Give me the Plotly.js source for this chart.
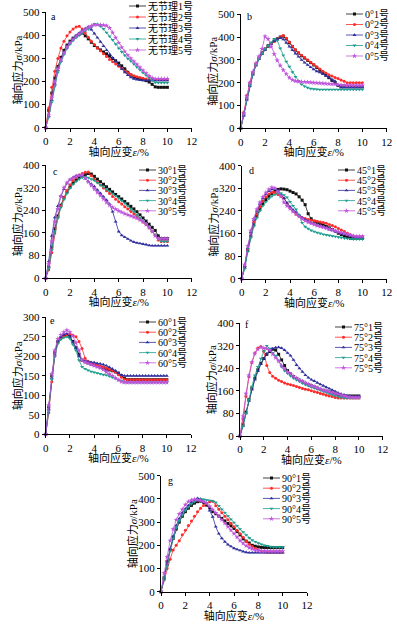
<!DOCTYPE html>
<html><head><meta charset="utf-8">
<script src="https://cdn.plot.ly/plotly-3.0.1.min.js"></script>
<style>html,body{margin:0;padding:0;background:#fff}#chart{width:397px;height:626px}</style>
</head><body><div id="chart"></div>
<script>
// axial strain (%) sampling points shared by every specimen
const strain = [0,0.25,0.5,0.75,1,1.25,1.5,1.75,2,2.25,2.5,2.75,3,3.25,3.5,3.75,4,4.25,4.5,4.75,5,5.25,5.5,5.75,6,6.25,6.5,6.75,7,7.25,7.5,7.75,8,8.25,8.5,8.75,9,9.25,9.5,9.75,10];

// a: intact (无节理)
const namesA = ['无节理1号','无节理2号','无节理3号','无节理4号','无节理5号'];
const stressA1 = [0,75,150,215,265,305,335,358,375,388,397,405,410,398,385,370,356,346,337,328,320,310,300,290,280,268,255,240,228,220,214,211,208,204,198,188,177,175,175,175,175];
const stressA2 = [0,85,175,245,300,345,375,398,415,428,436,440,428,410,392,375,360,345,333,320,308,296,286,276,266,256,246,238,230,225,221,217,214,211,209,208,208,208,208,208,208];
const stressA3 = [0,50,120,190,250,292,325,350,370,386,398,410,420,430,437,425,408,390,372,354,336,318,302,286,270,255,240,228,218,212,208,206,205,205,205,205,205,205,205,205,205];
const stressA4 = [0,45,110,180,240,285,318,343,362,378,390,400,410,418,427,436,450,448,440,428,412,396,380,362,344,328,313,299,288,275,262,250,238,227,216,205,196,195,195,195,195];
const stressA5 = [0,55,130,200,255,295,325,350,368,383,396,407,417,426,434,441,445,446,445,444,442,432,412,390,368,348,330,314,300,287,274,261,248,236,225,216,212,212,212,212,212];

// b: 0°
const namesB = ['0°1号','0°2号','0°3号','0°4号','0°5号'];
const stressB1 = [0,60,130,190,240,280,308,330,348,362,373,383,392,400,404,392,375,358,343,330,318,308,298,288,278,267,255,245,234,222,210,200,188,182,182,182,182,182,182,182,182];
const stressB2 = [0,70,145,200,245,282,308,330,348,360,372,382,392,402,407,395,378,360,345,332,320,310,300,290,280,270,260,250,242,235,229,223,218,212,206,200,200,200,200,200,200];
const stressB3 = [0,55,125,185,235,275,303,325,343,358,370,382,392,396,390,375,358,343,328,314,300,288,278,268,259,250,245,238,230,222,214,207,190,180,180,180,180,180,180,180,180];
const stressB4 = [0,60,130,190,240,278,305,328,348,362,375,392,385,350,320,292,270,246,226,208,193,184,178,174,172,171,170,170,170,170,170,170,170,170,170,170,170,170,170,170,170];
const stressB5 = [0,65,140,200,248,285,315,348,403,392,358,325,298,275,255,238,222,212,207,205,204,203,202,201,200,199,198,197,196,195,194,193,191,190,189,188,188,188,188,188,188];

// c: 30°
const namesC = ['30°1号','30°2号','30°3号','30°4号','30°5号'];
const stressC1 = [0,40,110,175,220,258,285,305,322,336,347,356,362,366,370,368,360,350,341,332,323,314,305,296,288,280,271,263,254,245,235,224,213,202,191,180,169,150,140,140,140];
const stressC2 = [0,30,90,160,215,255,285,310,330,345,357,365,370,374,375,362,350,340,329,319,309,299,289,279,270,262,253,245,236,227,217,208,199,190,178,166,153,135,130,130,130];
const stressC3 = [0,60,150,215,255,290,315,335,348,356,362,363,362,352,342,333,324,312,300,288,276,262,235,200,165,152,145,139,133,128,125,123,121,119,116,115,115,115,115,115,115];
const stressC4 = [0,35,100,165,212,250,278,300,318,332,342,350,356,358,355,350,345,337,330,322,315,307,299,291,283,274,265,255,245,235,224,213,202,191,180,168,152,140,130,130,130];
const stressC5 = [0,50,130,200,245,290,320,338,348,355,360,363,365,355,340,328,315,303,292,280,268,258,250,244,238,233,228,224,220,216,212,206,200,190,180,165,150,140,140,140,140];

// d: 45°
const namesD = ['45°1号','45°2号','45°3号','45°4号','45°5号'];
const stressD1 = [0,40,100,150,192,222,246,265,280,292,302,310,316,318,317,315,310,305,300,290,278,262,230,212,203,198,194,190,185,180,174,168,161,156,150,146,143,143,143,143,143];
const stressD2 = [0,45,105,160,200,230,255,275,290,300,306,305,298,292,285,268,250,238,228,221,217,213,210,207,205,203,201,199,196,192,188,184,178,172,167,161,156,151,149,149,149];
const stressD3 = [0,45,108,165,208,240,265,285,300,310,316,318,312,300,285,268,255,244,235,225,216,210,203,198,193,189,186,183,179,174,171,168,164,160,157,154,151,149,147,146,145];
const stressD4 = [0,35,95,145,185,215,240,258,272,283,292,298,303,302,296,288,272,258,245,225,198,184,177,171,167,163,160,157,155,153,151,149,147,145,143,142,141,140,140,140,140];
const stressD5 = [0,50,115,170,212,245,270,290,305,316,323,320,308,292,270,258,248,238,229,220,212,205,200,196,192,188,185,182,179,176,173,169,166,163,160,157,154,151,150,150,150];

// e: 60°
const namesE = ['60°1号','60°2号','60°3号','60°4号','60°5号'];
const stressE1 = [0,70,150,210,238,248,252,255,252,238,222,205,190,186,183,180,178,175,172,170,167,165,163,160,157,150,143,140,140,140,140,140,140,140,140,140,140,140,140,140,140];
const stressE2 = [0,55,135,200,235,245,250,255,258,254,250,238,220,195,187,183,180,178,175,173,170,167,164,160,153,146,141,140,140,140,140,140,140,140,140,140,140,140,140,140,140];
const stressE3 = [0,65,145,205,238,250,256,258,250,235,222,200,190,188,186,185,184,182,181,179,176,172,168,163,157,152,150,150,150,150,150,150,150,150,150,150,150,150,150,150,150];
const stressE4 = [0,60,140,200,232,243,248,250,245,230,215,190,173,168,164,161,159,157,155,153,152,149,146,143,140,137,134,133,133,133,133,133,133,133,133,133,133,133,133,133,133];
const stressE5 = [0,75,155,215,245,255,262,267,262,252,235,215,190,185,182,179,176,173,170,166,160,155,150,145,139,135,133,133,133,133,133,133,133,133,133,133,133,133,133,133,133];

// f: 75°
const namesF = ['75°1号','75°2号','75°3号','75°4号','75°5号'];
const stressF1 = [0,40,85,130,170,205,235,258,275,290,300,308,305,290,270,250,232,220,211,204,198,192,187,182,178,174,170,166,162,159,156,153,150,147,144,142,142,142,142,142,142];
const stressF2 = [0,60,140,210,260,295,312,318,300,250,225,212,205,198,193,188,185,182,179,176,172,169,166,164,161,157,154,151,148,145,142,140,137,135,135,135,135,135,135,135,135];
const stressF3 = [0,35,80,125,165,200,230,255,275,292,302,310,314,315,312,305,295,285,270,252,240,228,216,207,200,195,189,183,178,173,168,163,158,153,149,146,143,141,140,140,140];
const stressF4 = [0,35,80,130,175,215,245,275,300,320,310,295,285,268,246,232,222,213,205,199,193,187,182,178,174,170,166,162,158,154,150,146,143,140,137,135,135,135,135,135,135];
const stressF5 = [0,70,150,215,262,292,308,315,312,310,305,290,278,265,250,238,228,220,212,205,199,194,189,184,179,175,171,167,163,160,157,154,151,148,145,142,140,138,137,137,137];

// g: 90°
const namesG = ['90°1号','90°2号','90°3号','90°4号','90°5号'];
const stressG1 = [0,60,130,180,230,270,300,325,345,360,372,382,388,390,385,373,362,345,336,326,316,305,294,284,273,259,245,228,218,210,200,196,193,191,190,190,190,190,190,190,190];
const stressG2 = [0,50,100,140,180,200,220,245,265,285,305,325,345,360,372,380,388,390,370,355,340,325,310,295,280,265,250,235,216,205,195,187,180,175,172,170,170,170,170,170,170];
const stressG3 = [0,55,120,185,240,285,315,340,358,372,385,395,403,400,390,381,350,323,280,250,230,215,203,195,187,182,178,173,170,168,168,168,168,168,168,168,168,168,168,168,168];
const stressG4 = [0,50,110,175,230,275,305,330,350,365,378,388,395,400,398,395,393,392,385,370,355,340,326,312,298,284,270,257,244,232,222,215,209,204,200,197,194,192,192,192,192];
const stressG5 = [0,80,150,220,270,310,335,355,375,388,395,398,396,392,388,381,368,354,340,325,310,295,280,265,250,235,220,208,198,190,184,180,177,175,175,175,175,175,175,175,175];

const panelLetters = ['a','b','c','d','e','f','g'];
const yMax = [500,500,400,400,300,400,500];
const yStep = [100,100,80,80,50,80,100];

// ---------- styling / layout ----------
const W = 397, H = 626;
const SERIF = 'Liberation Serif, Noto Sans CJK SC, serif';
const colors = ['#111111','#ff2a2a','#2e2e9e','#1e9e8e','#c055dd'];
const symbols = ['square','circle','triangle-up','triangle-down','star'];
const msize = [3,3,3.5,3.5,4];

// plot boxes in pixels: [left, right, top, bottom]
const boxes = [
  [45.7,191.7,12.3,127.7],
  [240.7,386.7,14.3,128.3],
  [45.7,191.7,165,278.3],
  [241.7,386.7,165.7,278.7],
  [45.7,191,317.3,434.3],
  [240,382.7,323.3,436],
  [161,307,475.7,591.7]
];
// legend: [text left px, first row centre px, row spacing px]
const legPos = [
  [148,6,11],[365,14,10.5],[158,170,10.2],[357,170,10.2],[158,322,10.2],[354,327,10.2],[282,478,10.2]
];
const letterPos = [[0.05,0.96],[0.057,0.985],[0.064,0.94],[0.069,0.96],[0.045,0.97],[0.051,0.985],[0.062,0.957]];

const panels = [
  [namesA,[stressA1,stressA2,stressA3,stressA4,stressA5]],
  [namesB,[stressB1,stressB2,stressB3,stressB4,stressB5]],
  [namesC,[stressC1,stressC2,stressC3,stressC4,stressC5]],
  [namesD,[stressD1,stressD2,stressD3,stressD4,stressD5]],
  [namesE,[stressE1,stressE2,stressE3,stressE4,stressE5]],
  [namesF,[stressF1,stressF2,stressF3,stressF4,stressF5]],
  [namesG,[stressG1,stressG2,stressG3,stressG4,stressG5]]
];

const data = [];
const layout = {
  width: W, height: H,
  margin: {l:0,r:0,t:0,b:0,autoexpand:false},
  paper_bgcolor:'#fff', plot_bgcolor:'rgba(0,0,0,0)',
  font: {family: SERIF, size: 11, color:'#000'},
  annotations: []
};

panels.forEach((p, k) => {
  const n = k === 0 ? '' : String(k+1);
  const legId = 'legend' + n;
  const [names, series] = p;
  series.forEach((ys, s) => {
    data.push({
      type:'scatter', mode:'lines+markers',
      x: strain, y: ys, name: names[s],
      xaxis: 'x'+n, yaxis: 'y'+n, legend: legId,
      line: {color: colors[s], width: 0.8},
      marker: {color: colors[s], symbol: symbols[s], size: msize[s], line:{width:0}},
      cliponaxis: false
    });
  });
  const b = boxes[k];
  const axFont = {family: SERIF, size: 11, color:'#000'};
  layout['xaxis'+n] = {
    domain: [b[0]/W, b[1]/W], anchor: 'y'+n,
    range: [0,12], dtick: 2, tick0: 0,
    showline: true, linecolor:'#000', linewidth: 1,
    ticks:'outside', ticklen: 3, tickcolor:'#000', tickwidth:1,
    showgrid:false, zeroline:false, fixedrange:true,
    tickfont: axFont,
    title: {text:'轴向应变<i>ε</i>/%', font:{family:SERIF,size:11,color:'#000'}, standoff: 0}
  };
  layout['yaxis'+n] = {
    domain: [1-b[3]/H, 1-b[2]/H], anchor: 'x'+n,
    range: [0, yMax[k]], dtick: yStep[k], tick0: 0,
    showline: true, linecolor:'#000', linewidth: 1,
    ticks:'outside', ticklen: 3, tickcolor:'#000', tickwidth:1,
    showgrid:false, zeroline:false, fixedrange:true,
    tickfont: axFont,
    title: {text:'轴向应力<i>σ</i>/kPa', font:{family:SERIF,size:11,color:'#000'}, standoff: 0}
  };
  const lp = legPos[k];
  layout[legId] = {
    x: (lp[0]-40)/W, xanchor:'left',
    y: 1-(lp[1]-6)/H, yanchor:'top',
    bgcolor:'rgba(0,0,0,0)', borderwidth:0,
    font:{family:SERIF,size:10,color:'#000'},
    tracegroupgap:0
  };
  layout.annotations.push({
    text: panelLetters[k], xref:'x'+n+' domain', yref:'y'+n+' domain',
    x: letterPos[k][0], y: letterPos[k][1], xanchor:'center', yanchor:'middle',
    showarrow:false, font:{family:SERIF,size:10,color:'#000'}
  });
});

function finishing(){
  const gd = document.getElementById('chart');
  panels.forEach((p,k)=>{
    const n = k===0 ? '' : String(k+1);
    const g = gd.querySelector('g.legend'+n);
    if(g){
      const rowH = legPos[k][2];
      g.querySelectorAll('g.traces').forEach((it,i)=>{
        it.setAttribute('transform','translate(0,'+(6+i*rowH)+')');
        it.querySelectorAll('.legendlines path').forEach(pa=>pa.setAttribute('d','M21,0h17'));
        it.querySelectorAll('.legendpoints path').forEach(pa=>pa.setAttribute('transform','translate(29.5,0)'));
      });
    }
    // nudge axis titles slightly towards their axes (compose with Plotly's own transforms)
    const xt = gd.querySelector('text.x'+n+'title');
    if(xt) xt.setAttribute('transform','translate(0,-2) ' + (xt.getAttribute('transform')||''));
    const yt = gd.querySelector('text.y'+n+'title');
    if(yt) yt.setAttribute('transform','translate(2,0) ' + (yt.getAttribute('transform')||''));
  });
}

Plotly.newPlot('chart', data, layout, {staticPlot:true, displayModeBar:false}).then(finishing);
</script>
</body></html>
